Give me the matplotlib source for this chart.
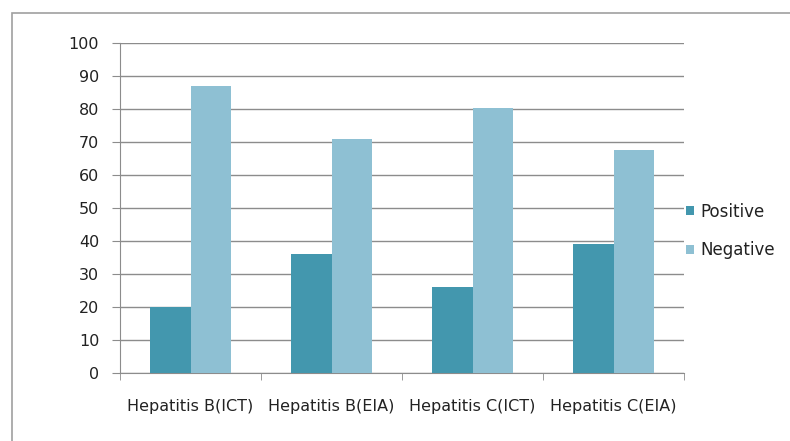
import numpy as np
import matplotlib.pyplot as plt
from matplotlib.patches import Rectangle

categories = ['Hepatitis B(ICT)', 'Hepatitis B(EIA)', 'Hepatitis C(ICT)', 'Hepatitis C(EIA)']
positive = [20, 36, 26, 39]
negative = [87, 71, 80.5, 67.5]

pos_color = '#4397AE'
neg_color = '#8EC0D3'
grid_color = '#8c8c8c'

fig = plt.figure(figsize=(7.9, 4.41), dpi=100)
ax = fig.add_axes([120 / 790, 1 - 372.7 / 441, 564 / 790, (372.7 - 43.3) / 441])

# outer chart border (extends past right/bottom edge)
fig.patches.append(Rectangle((12 / 790, -0.1), 1.2, 1 - 13 / 441 + 0.1,
                             transform=fig.transFigure, fill=False,
                             edgecolor='#a0a0a0', linewidth=1.2))

x = np.arange(len(categories))
w = 0.29
ax.bar(x - w / 2, positive, w, color=pos_color, label='Positive', zorder=3)
ax.bar(x + w / 2, negative, w, color=neg_color, label='Negative', zorder=3)

ax.set_xlim(-0.5, len(categories) - 0.5)
ax.set_ylim(0, 100)
ax.set_yticks(range(0, 101, 10))
ax.yaxis.grid(True, color=grid_color, linewidth=1, zorder=0)
ax.set_axisbelow(True)

ax.set_xticks(x)
ax.set_xticklabels(categories, fontsize=11.5, color='#222222')
ax.tick_params(axis='x', length=0, pad=19)
ax.set_xticks(np.arange(-0.5, len(categories)), minor=True)
ax.tick_params(axis='x', which='minor', length=5, color=grid_color, direction='out')
ax.tick_params(axis='y', length=6, color=grid_color, direction='out', labelsize=11.5,
               labelcolor='#222222', pad=9)

for s in ['top', 'right']:
    ax.spines[s].set_visible(False)
ax.spines['left'].set_color(grid_color)
ax.spines['bottom'].set_color(grid_color)

leg = fig.legend(loc='center left', bbox_to_anchor=(679 / 790, 1 - 231 / 441),
                 frameon=False, fontsize=12, handlelength=0.5, handleheight=0.5,
                 handletextpad=0.4, labelspacing=1.25, borderaxespad=0)
for t in leg.get_texts():
    t.set_color('#222222')

fig.savefig('out.png', dpi=100)
